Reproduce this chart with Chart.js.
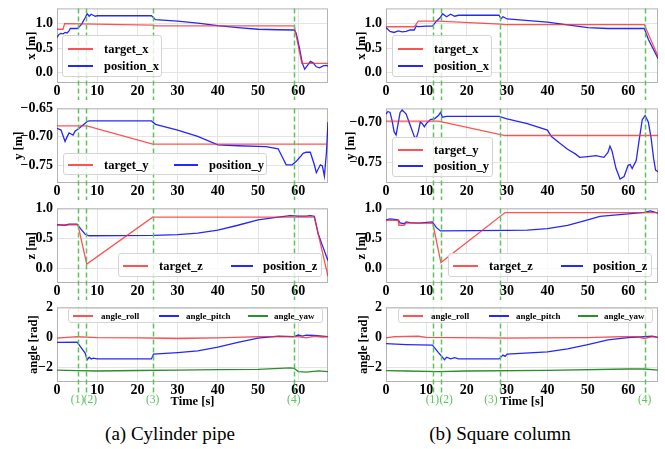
<!DOCTYPE html>
<html>
<head>
<meta charset="utf-8">
<script src="https://cdn.jsdelivr.net/npm/chart.js@4.4.1/dist/chart.umd.min.js"></script>
<style>
  body { margin:0; background:#fff; }
  #fig { position:relative; width:665px; height:449px; overflow:hidden; font-family:'Liberation Serif','Times New Roman',serif; }
  #fig canvas { position:absolute; }
  .leg { position:absolute; box-sizing:border-box; background:rgba(255,255,255,0.8); border:1px solid #d4d4d4; border-radius:3px; font-weight:bold; color:#000; }
  .leg span { position:absolute; white-space:nowrap; line-height:1; transform:translateY(-50%); }
  .leg i { position:absolute; height:0; border-top:2px solid; transform:translateY(-1px); }
  .cap { position:absolute; font-size:19px; line-height:22px; white-space:nowrap; transform:translateX(-50%); }
</style>
</head>
<body>
<div id="fig">
  <div class="cap" style="left:170px;top:423px">(a) Cylinder pipe</div>
  <div class="cap" style="left:500px;top:423px">(b) Square column</div>
</div>
<script>
//----------------- Data  [time s, value]
const xMax = 67.4
const markLabels = ['(1)', '(2)', '(3)', '(4)']

// (a) cylinder pipe
const cylMarks = [5.1, 7.2, 23.8, 58.9]
const cylMarkLabelX = [5.1, 8.3, 23.8, 58.9]
const cylTargetX = [[0,0.885],[1.5,0.885],[1.9,1.0],[23.8,0.97],[24.5,0.955],[59,0.955],[60.9,0.19],[67.4,0.19]]
const cylPosX = [[0,0.72],[0.5,0.78],[1,0.8],[1.5,0.79],[2,0.82],[2.5,0.81],[3,0.85],[3.3,0.9],[5,0.9],[5.5,0.93],[6.2,1.0],[7,1.12],[7.5,1.2],[8,1.15],[8.5,1.19],[9,1.17],[9.5,1.15],[10,1.16],[23.5,1.16],[24.5,1.08],[30,1.05],[35,1.01],[40,0.96],[45,0.92],[50,0.885],[55,0.875],[59,0.87],[59.5,0.8],[60.3,0.5],[61,0.2],[61.6,0.07],[62.3,0.15],[63,0.23],[63.7,0.2],[64.5,0.12],[65.3,0.1],[66.2,0.14],[67,0.15],[67.4,0.13]]
const cylTargetY = [[0,-0.6806],[7.4,-0.6806],[23.8,-0.7128],[67.4,-0.7128]]
const cylPosY = [[0,-0.685],[1,-0.688],[1.5,-0.698],[2,-0.708],[2.5,-0.7],[3,-0.693],[3.5,-0.695],[4,-0.697],[4.5,-0.69],[5.5,-0.685],[6.5,-0.679],[7.5,-0.673],[8,-0.672],[23.5,-0.672],[24.5,-0.678],[30,-0.688],[35,-0.699],[40,-0.714],[45,-0.7156],[52,-0.717],[55,-0.721],[56,-0.735],[57,-0.749],[58.5,-0.749],[59.5,-0.743],[60.5,-0.735],[61.2,-0.729],[62,-0.727],[63,-0.727],[64,-0.749],[64.5,-0.763],[65.5,-0.749],[66,-0.751],[66.5,-0.769],[67,-0.729],[67.4,-0.674]]
const cylTargetZ = [[0,0.72],[5.2,0.73],[7.4,0.075],[23.8,0.855],[64,0.855],[67.4,-0.13]]
const cylPosZ = [[0,0.73],[2,0.72],[3,0.74],[5,0.74],[6,0.65],[7,0.57],[8,0.545],[24,0.55],[30,0.565],[35,0.59],[40,0.64],[45,0.72],[50,0.81],[55,0.855],[58,0.88],[60,0.87],[62,0.87],[63,0.88],[64,0.87],[65,0.57],[66,0.385],[67.4,0.13]]
const cylRoll = [[0,-0.04],[5,0.06],[10,0],[20,-0.02],[30,-0.06],[40,-0.02],[50,0.06],[60,0.06],[62,-0.02],[64,0.1],[66,0.04],[67.4,0.06]]
const cylPitch = [[0,-0.32],[5,-0.3],[6,-0.67],[7,-1.03],[7.5,-1.47],[8,-1.3],[8.5,-1.42],[9,-1.36],[10,-1.41],[23.5,-1.41],[24,-1.09],[30,-0.99],[35,-0.88],[40,-0.63],[45,-0.32],[50,-0.04],[55,0.1],[59,0.06],[60,0.17],[61,0.1],[62,0.17],[64,0.15],[66,0.1],[67.4,0.06]]
const cylYaw = [[0,-2.15],[5,-2.19],[10,-2.21],[20,-2.18],[30,-2.15],[40,-2.12],[50,-2.1],[58,-2.0],[59,-2.04],[60,-2.25],[62,-2.29],[65,-2.21],[67.4,-2.25]]

// (b) square column
const sqMarks = [11.55, 13.6, 28.2, 64.1]
const sqMarkLabelX = [11.5, 14.9, 26.0, 64.1]
const sqTargetX = [[0,0.936],[7,0.936],[8,1.05],[13,1.05],[28.3,0.99],[29.5,0.98],[64,0.98],[67.4,0.33]]
const sqPosX = [[0,0.92],[1,0.84],[2,0.82],[3,0.85],[4,0.83],[5,0.84],[6,0.87],[7,0.87],[7.5,0.95],[8,0.94],[10,0.95],[11.5,0.95],[12.5,1.05],[13.5,1.13],[14,1.2],[15,1.14],[16,1.19],[17,1.15],[18,1.17],[28,1.17],[28.5,1.1],[29,1.14],[30,1.095],[40,1.03],[50,0.92],[55,0.9],[64,0.9],[65,0.68],[67.4,0.29]]
const sqTargetY = [[0,-0.6988],[13,-0.6988],[29.5,-0.7168],[67.4,-0.7168]]
const sqPosY = [[0,-0.69],[0.5,-0.6868],[1,-0.688],[1.5,-0.698],[2,-0.712],[2.5,-0.716],[3,-0.702],[3.5,-0.688],[4,-0.685],[5,-0.69],[6,-0.704],[7,-0.718],[7.5,-0.72],[8,-0.712],[8.5,-0.7],[9,-0.702],[9.5,-0.706],[10,-0.702],[11,-0.697],[12,-0.696],[13,-0.692],[13.5,-0.688],[14,-0.694],[15,-0.693],[28,-0.693],[30,-0.696],[35,-0.702],[40,-0.71],[41,-0.718],[43,-0.726],[45,-0.734],[47,-0.74],[48,-0.744],[50,-0.743],[52,-0.742],[54,-0.744],[55,-0.738],[55.5,-0.73],[56,-0.736],[57,-0.758],[58,-0.771],[59,-0.768],[60,-0.754],[60.5,-0.753],[61,-0.758],[62,-0.748],[62.8,-0.72],[63.5,-0.697],[64.2,-0.692],[65,-0.7],[65.7,-0.72],[66.3,-0.745],[66.8,-0.76],[67.4,-0.762]]
const sqTargetZ = [[0,0.8],[3,0.8],[3.2,0.72],[4.5,0.72],[5,0.76],[11.6,0.75],[13.6,0.1],[29.5,0.93],[67.4,0.93]]
const sqPosZ = [[0,0.81],[1,0.825],[3,0.81],[3.5,0.76],[4.5,0.745],[5,0.775],[6,0.765],[8,0.755],[11.5,0.775],[12.5,0.68],[13.5,0.625],[30,0.636],[35,0.64],[40,0.663],[45,0.717],[50,0.81],[53,0.866],[60,0.91],[64,0.935],[65.5,0.957],[67.4,0.92]]
const sqRoll = [[0,-0.02],[2,0.06],[8,0.1],[10,0.02],[30,-0.04],[50,0],[58,0.06],[62,0.06],[64,-0.06],[66,0.06],[67.4,0]]
const sqPitch = [[0,-0.4],[5,-0.46],[11.5,-0.5],[13,-0.99],[14,-1.3],[14.5,-1.47],[15,-1.3],[16,-1.41],[17,-1.33],[18,-1.41],[28,-1.41],[29,-1.16],[29.5,-1.24],[30,-1.09],[40,-0.95],[45,-0.74],[50,-0.46],[55,-0.15],[60,0],[64,0.06],[66,0.1],[67.4,0.02]]
const sqYaw = [[0,-2.19],[5,-2.21],[13,-2.25],[20,-2.21],[40,-2.17],[60,-2.08],[64,-2.08],[67.4,-2.15]]

//----------------- Styles
const RED = 'rgba(255,40,40,0.8)'
const BLUE = 'rgba(0,0,255,0.85)'
const GREEN = '#2a8f2a'
const MARK = '#5cc25c'
const serif = "'Liberation Serif', 'Times New Roman', serif"
const tickFont = {family: serif, size: 14, weight: 'bold'}
const titleFont = {family: serif, size: 12.5, weight: 'bold'}
const fig = document.getElementById('fig')

function fmt(digits) {
  return v => (v < 0 ? '\u2212' : '') + Math.abs(v).toFixed(digits)
}

//----------------- One subplot
function drawPanel(p) {
  const xh = p.last ? 33 : 17
  const canvas = document.createElement('canvas')
  canvas.width = 330
  canvas.height = 8 + 79 + xh
  canvas.style.left = p.left + 'px'
  canvas.style.top = (p.top - 8) + 'px'
  fig.appendChild(canvas)

  // frame + green dashed event lines (+ labels under the last panel)
  const marks = {
    id: 'marks',
    beforeDatasetsDraw(chart) {
      const {ctx, chartArea: a} = chart
      ctx.save()
      ctx.strokeStyle = '#b4b4b4'
      ctx.lineWidth = 1
      ctx.strokeRect(a.left + 0.5, a.top + 0.5, a.width - 1, a.height - 1)
      ctx.restore()
    },
    afterDatasetsDraw(chart) {
      const {ctx, chartArea: a} = chart
      const x = chart.scales.x
      ctx.save()
      ctx.strokeStyle = MARK
      ctx.lineWidth = 1.5
      ctx.setLineDash([5, 3])
      p.marks.forEach(t => {
        const px = Math.round(x.getPixelForValue(t)) + 0.5
        ctx.beginPath()
        ctx.moveTo(px, a.top)
        ctx.lineTo(px, a.bottom + (p.last ? 11 : 21))
        ctx.stroke()
      })
      if (p.last) {
        ctx.fillStyle = MARK
        ctx.font = '11.5px ' + serif
        ctx.textAlign = 'center'
        ctx.textBaseline = 'middle'
        p.markLabelX.forEach((t, i) => {
          ctx.fillText(markLabels[i], x.getPixelForValue(t), a.bottom + 18)
        })
      }
      ctx.restore()
    }
  }

  return new Chart(canvas.getContext('2d'), {
    type: 'line',
    data: {
      datasets: p.series.map(s => ({
        data: s.data,
        borderColor: s.color,
        borderWidth: 1.3,
        pointRadius: 0,
        tension: 0,
        fill: false
      }))
    },
    options: {
      responsive: false,
      animation: false,
      devicePixelRatio: 1,
      layout: {padding: {top: 8, right: 2, left: 0, bottom: 0}},
      plugins: {legend: {display: false}, tooltip: {enabled: false}},
      scales: {
        x: {
          type: 'linear', min: 0, max: xMax,
          afterFit: s => { s.height = xh },
          grid: {color: '#e4e4e4', drawTicks: false},
          border: {display: false},
          ticks: {stepSize: 10, includeBounds: false, padding: 0, font: tickFont, color: '#000', maxRotation: 0},
          title: {display: !!p.last, text: 'Time [s]', font: titleFont, color: '#000', padding: {top: 0, bottom: 5.5}}
        },
        y: {
          type: 'linear', min: p.yMin, max: p.yMax,
          afterFit: s => { s.width = p.axisW },
          grid: {color: '#e4e4e4', drawTicks: false},
          border: {display: false},
          ticks: {stepSize: p.yStep, includeBounds: false, padding: 4, font: tickFont, color: '#000', callback: fmt(p.digits)},
          title: {display: true, text: p.yTitle, font: titleFont, color: '#000', padding: {top: p.titleX - 7.5, bottom: 0}}
        }
      }
    },
    plugins: [marks]
  })
}

//----------------- HTML legends
function addLegend(x, y, w, h, size, items) {
  const box = document.createElement('div')
  box.className = 'leg'
  box.style.cssText = `left:${x}px;top:${y}px;width:${w}px;height:${h}px;font-size:${size}px`
  items.forEach(it => {
    const line = document.createElement('i')
    line.style.cssText = `left:${it.lx}px;top:${it.y}px;width:${it.len}px;border-color:${it.color}`
    const label = document.createElement('span')
    label.style.cssText = `left:${it.tx}px;top:${it.y}px`
    label.textContent = it.text
    box.appendChild(line)
    box.appendChild(label)
  })
  fig.appendChild(box)
}

//----------------- Build both columns
function drawColumn(ox, d) {
  drawPanel({left: ox, top: 4, axisW: d.axisW, yMin: -0.21, yMax: 1.31, yStep: 0.5, digits: 1, yTitle: 'x [m]', titleX: 32,
    marks: d.marks, series: [{data: d.tx, color: RED}, {data: d.px, color: BLUE}]})
  drawPanel({left: ox, top: 104, axisW: d.axisW, yMin: d.yMin2, yMax: d.yMax2, yStep: 0.05, digits: 2, yTitle: 'y [m]', titleX: d.titleX2,
    marks: d.marks, series: [{data: d.ty, color: RED}, {data: d.py, color: BLUE}]})
  drawPanel({left: ox, top: 204, axisW: d.axisW, yMin: -0.24, yMax: 1.0, yStep: 0.5, digits: 1, yTitle: 'z [m]', titleX: 32,
    marks: d.marks, series: [{data: d.tz, color: RED}, {data: d.pz, color: BLUE}]})
  drawPanel({left: ox, top: 303, axisW: d.axisW, yMin: -2.94, yMax: 2.0, yStep: 2, digits: 0, yTitle: 'angle [rad]', titleX: 34,
    marks: d.marks, markLabelX: d.markLabelX, last: true,
    series: [{data: d.roll, color: RED}, {data: d.pitch, color: BLUE}, {data: d.yaw, color: GREEN}]})
}

drawColumn(0, {axisW: 57, marks: cylMarks, markLabelX: cylMarkLabelX, yMin2: -0.781, yMax2: -0.65, titleX2: 19,
  tx: cylTargetX, px: cylPosX, ty: cylTargetY, py: cylPosY, tz: cylTargetZ, pz: cylPosZ, roll: cylRoll, pitch: cylPitch, yaw: cylYaw})
drawColumn(330, {axisW: 56, marks: sqMarks, markLabelX: sqMarkLabelX, yMin2: -0.776, yMax2: -0.683, titleX2: 21,
  tx: sqTargetX, px: sqPosX, ty: sqTargetY, py: sqPosY, tz: sqTargetZ, pz: sqPosZ, roll: sqRoll, pitch: sqPitch, yaw: sqYaw})

// legends
const twoRows = (a, b, r1, r2) => [
  {text: a, color: RED, lx: 4.5, len: 25, tx: 41, y: r1},
  {text: b, color: BLUE, lx: 4.5, len: 25, tx: 41, y: r2}
]
addLegend(62, 35, 100, 42, 12.5, twoRows('target_x', 'position_x', 13, 30))
addLegend(392, 35, 100, 42, 12.5, twoRows('target_x', 'position_x', 13, 30))
addLegend(63, 153, 204, 22, 12.5, [
  {text: 'target_y', color: RED, lx: 4, len: 25, tx: 40, y: 10.5},
  {text: 'position_y', color: BLUE, lx: 110, len: 24, tx: 145, y: 10.5}])
addLegend(392, 137, 101, 40, 12.5, twoRows('target_y', 'position_y', 11.5, 28))
;[0, 330].forEach(ox => {
  addLegend(ox + 118, 253, 204, 24, 12.5, [
    {text: 'target_z', color: RED, lx: 4, len: 25, tx: 40, y: 11.5},
    {text: 'position_z', color: BLUE, lx: 112, len: 22, tx: 144, y: 11.5}])
  addLegend(ox + 68, 308, 255, 15, 9, [
    {text: 'angle_roll', color: RED, lx: 4, len: 20, tx: 32, y: 7},
    {text: 'angle_pitch', color: BLUE, lx: 90, len: 20, tx: 117, y: 7},
    {text: 'angle_yaw', color: GREEN, lx: 179, len: 20, tx: 205, y: 7}])
})
</script>
</body>
</html>
